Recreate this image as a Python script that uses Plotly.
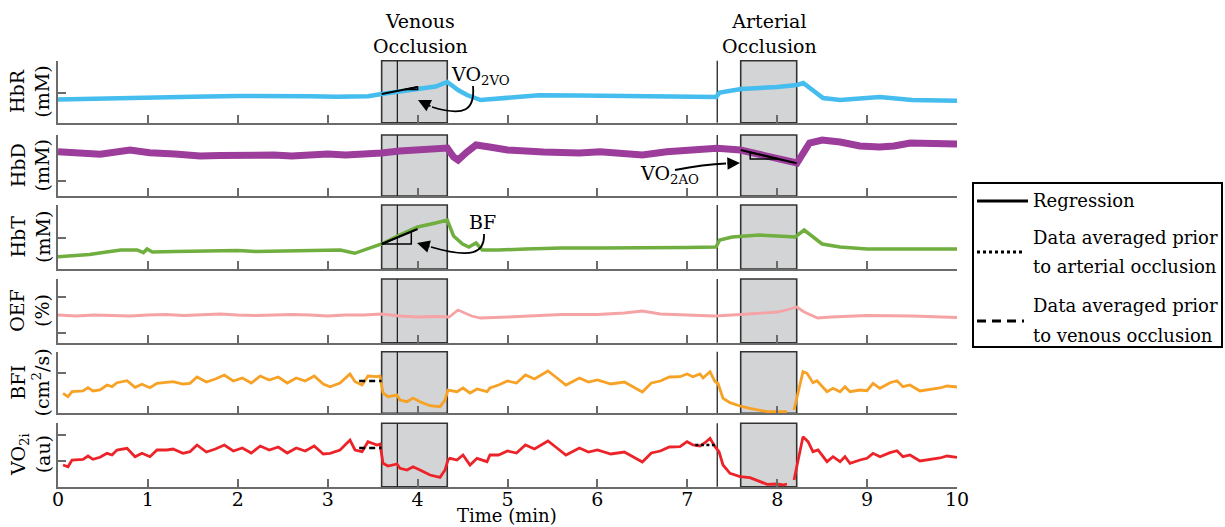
import plotly.graph_objects as go

# ---------------------------------------------------------------- data
# time in minutes; values in arbitrary units above each panel's lower limit
x_ticks = list(range(0, 11))
x_tick_labels = [str(v) for v in x_ticks]

hbr_pts = [(0, 23.2), (0.5, 24.4), (1.0, 25.2), (1.5, 25.9), (2.0, 26.7), (2.5, 27.2), (2.8, 26.5),
           (3.1, 25.9), (3.3, 25.7), (3.45, 26.5), (3.6, 28.7), (3.8, 31.7), (4.0, 33.7), (4.2, 36.2),
           (4.33, 40.7), (4.45, 32.7), (4.55, 27.7), (4.7, 22.7), (4.85, 23.7), (5.0, 25.7), (5.35, 27.4),
           (5.8, 27.2), (6.2, 26.7), (6.6, 26.7), (7.0, 25.9), (7.32, 25.7), (7.36, 30.2), (7.6, 33.7),
           (8.0, 35.7), (8.22, 37.7), (8.29, 39.7), (8.4, 31.7), (8.51, 24.7), (8.7, 22.7), (8.9, 23.7),
           (9.14, 25.7), (9.5, 22.7), (10, 22.0)]

hbd_pts = [(0, 44.3), (0.2, 43), (0.47, 41.7), (0.8, 46), (1.02, 43.3), (1.3, 42), (1.58, 40),
           (1.8, 40.5), (2.0, 41), (2.2, 42), (2.4, 41), (2.6, 40), (2.8, 41), (3.0, 42), (3.2, 41),
           (3.4, 41.5), (3.6, 43), (3.8, 45), (4.0, 46), (4.2, 47.5), (4.33, 48), (4.4, 39), (4.45, 36),
           (4.55, 44), (4.65, 51), (4.8, 49), (5.0, 46), (5.4, 44), (5.8, 43), (6.03, 44.3), (6.44, 42.7),
           (6.5, 41), (6.77, 44.3), (7.0, 45), (7.33, 47.7), (7.59, 46), (7.8, 42), (8.0, 38.5),
           (8.22, 33), (8.36, 53), (8.5, 56), (8.7, 54), (8.92, 50), (9.14, 49), (9.3, 50), (9.48, 53),
           (9.7, 52.5), (10, 52)]

hbt_pts = [(0, 12.3), (0.1, 13), (0.2, 14), (0.35, 14.5), (0.5, 16.5), (0.7, 19), (0.88, 19),
           (0.95, 16.3), (0.99, 20), (1.05, 17), (1.3, 17.5), (1.58, 18), (1.8, 19), (2.0, 18.5),
           (2.2, 17.5), (2.5, 18), (2.8, 18.5), (3.14, 19), (3.3, 15.7), (3.45, 20), (3.6, 25), (3.8, 34),
           (4.0, 42), (4.2, 46), (4.33, 49), (4.4, 33), (4.5, 25), (4.57, 22), (4.65, 26), (4.72, 19),
           (4.9, 19), (5.2, 20), (5.6, 21), (6.0, 21), (6.4, 21), (6.8, 21), (7.0, 21.5), (7.32, 22),
           (7.36, 29), (7.5, 32), (7.8, 34), (8.0, 33), (8.2, 32), (8.3, 39), (8.4, 32), (8.5, 25),
           (8.7, 22), (9.0, 20), (9.5, 20), (10, 20)]

oef_pts = [(0, 27.7), (0.2, 26.7), (0.4, 27.7), (0.6, 27.2), (0.8, 26.7), (1.0, 27.7), (1.2, 28.2),
           (1.4, 27.2), (1.6, 27.7), (1.8, 28.7), (2.0, 27.7), (2.2, 27.2), (2.4, 27.7), (2.6, 28.2),
           (2.8, 27.7), (3.0, 26.7), (3.2, 27.7), (3.4, 27.7), (3.6, 28.7), (3.8, 26.7), (4.0, 25.7),
           (4.2, 26.2), (4.35, 25.7), (4.45, 32.7), (4.6, 26.7), (4.7, 24.7), (5.0, 25.7), (5.3, 26.7),
           (5.6, 28.2), (6.0, 28.2), (6.3, 29.7), (6.5, 31.7), (6.7, 28.7), (7.0, 27.7), (7.3, 26.7),
           (7.6, 28.2), (7.8, 29.7), (8.0, 30.7), (8.1, 32.7), (8.22, 35.7), (8.3, 30.7), (8.45, 24.7),
           (8.6, 25.7), (9.0, 27.2), (9.5, 26.7), (10, 25.2)]

bfi_pts = [(0.056, 20), (0.111, 16.6), (0.156, 21.6), (0.278, 22.3), (0.334, 25.6), (0.389, 22.3),
           (0.467, 23.3), (0.545, 28.3), (0.601, 26.6), (0.656, 30.6), (0.768, 32.6), (0.857, 26),
           (0.934, 29), (1.023, 25.6), (1.101, 30), (1.212, 31), (1.279, 31.6), (1.39, 29.3),
           (1.468, 30), (1.546, 36.3), (1.65, 31.3), (1.75, 34.3), (1.85, 38.3), (1.95, 32.3),
           (2.05, 35.3), (2.15, 30.3), (2.25, 37.3), (2.35, 33.3), (2.45, 36.3), (2.55, 30.3),
           (2.65, 35.3), (2.75, 32.3), (2.85, 37.3), (2.95, 29.3), (3.026, 26.6), (3.137, 30.3),
           (3.248, 39.3), (3.304, 31.6), (3.382, 28.3), (3.448, 37.3), (3.548, 36.6), (3.582, 37.3),
           (3.615, 20.3), (3.671, 16.6), (3.771, 18.3), (3.804, 13.3), (3.882, 11.6), (3.949, 15.3),
           (4.027, 11.6), (4.138, 7.6), (4.249, 6.6), (4.305, 13.3), (4.338, 23.3), (4.438, 21.6),
           (4.505, 25.3), (4.583, 20.3), (4.661, 24.3), (4.772, 21.6), (4.805, 25.3), (4.9, 28.3),
           (5.0, 32.3), (5.1, 30.3), (5.2, 38.3), (5.3, 34.3), (5.45, 42.3), (5.55, 35.3), (5.65, 28.3),
           (5.8, 35.3), (5.9, 31.3), (6.0, 33.3), (6.15, 29.3), (6.3, 31.3), (6.4, 26.3), (6.5, 21.3),
           (6.6, 30.3), (6.7, 32.3), (6.8, 36.3), (6.919, 36.6), (6.997, 39.3), (7.063, 36.6),
           (7.141, 39.3), (7.175, 35.3), (7.253, 41.6), (7.308, 31.6), (7.341, 30), (7.397, 15),
           (7.475, 10.6), (7.586, 7.3), (7.697, 5), (7.809, 3.3), (7.887, 1.6), (8.031, 1.6),
           (8.109, 1.6), (8.15, None), (8.187, 3.3), (8.22, 16.6), (8.287, 41.6), (8.331, 40),
           (8.398, 30.6), (8.443, 32.6), (8.554, 21.6), (8.621, 25), (8.699, 21.6), (8.754, 26.6),
           (8.81, 21.6), (8.921, 23.3), (8.999, 22.6), (9.066, 30), (9.143, 25), (9.255, 30.6),
           (9.333, 32.6), (9.399, 26.6), (9.477, 28.3), (9.588, 22.3), (9.666, 23.3), (9.811, 25.3),
           (9.889, 27.3), (10.0, 26.3)]

vo2_pts = [(0.056, 21.7), (0.111, 20), (0.156, 26.7), (0.278, 27.4), (0.334, 30.7), (0.389, 27.4),
           (0.467, 29.4), (0.545, 33.4), (0.601, 31.7), (0.656, 36.7), (0.768, 38.4), (0.857, 30),
           (0.934, 33.4), (1.023, 30), (1.101, 36.7), (1.212, 36.7), (1.279, 37.7), (1.39, 33.4),
           (1.468, 35), (1.546, 41.7), (1.65, 34.7), (1.75, 37.7), (1.85, 41.7), (1.95, 35.7),
           (2.05, 38.7), (2.15, 33.7), (2.25, 40.7), (2.35, 36.7), (2.45, 39.7), (2.55, 33.7),
           (2.65, 38.7), (2.75, 35.7), (2.85, 40.7), (2.95, 32.7), (3.026, 33.4), (3.137, 36.7),
           (3.248, 46.7), (3.304, 36.7), (3.382, 35), (3.448, 45), (3.548, 41.7), (3.582, 42.7),
           (3.615, 23.4), (3.671, 20.7), (3.771, 22.7), (3.804, 18.4), (3.882, 16.7), (3.949, 20),
           (4.027, 16.7), (4.138, 11.7), (4.249, 9.4), (4.305, 16.7), (4.338, 26.7), (4.36, 28.4),
           (4.438, 26.7), (4.505, 31.7), (4.583, 21.7), (4.661, 28.4), (4.772, 25), (4.805, 31.7),
           (4.9, 31.7), (5.0, 35.7), (5.1, 33.7), (5.2, 41.7), (5.3, 37.7), (5.45, 45.7), (5.55, 38.7),
           (5.65, 31.7), (5.8, 38.7), (5.9, 34.7), (6.0, 36.7), (6.15, 32.7), (6.3, 34.7), (6.4, 29.7),
           (6.5, 24.7), (6.6, 33.7), (6.7, 35.7), (6.8, 39.7), (6.919, 40), (6.997, 45), (7.063, 41.7),
           (7.141, 40.7), (7.197, 44), (7.253, 48.4), (7.308, 40), (7.353, 35), (7.397, 21.7),
           (7.475, 13.4), (7.586, 10), (7.697, 9), (7.809, 5), (7.887, 2.4), (7.998, 2.7), (8.065, 1.7),
           (8.109, 2.7), (8.15, None), (8.187, 6.7), (8.22, 20), (8.287, 50), (8.343, 45), (8.398, 35),
           (8.454, 36.7), (8.554, 25), (8.621, 30), (8.699, 25), (8.754, 30), (8.81, 23.4),
           (8.921, 26.7), (8.999, 28.4), (9.066, 33.4), (9.143, 30), (9.255, 34), (9.333, 36),
           (9.399, 30), (9.477, 31.7), (9.588, 25.7), (9.666, 26.7), (9.811, 28.7), (9.889, 30.7),
           (10.0, 29.4)]

# regression lines and slope triangles (time, value)
hbr_reg = [(3.6, 28.7), (4.0, 35.7)]
hbr_tri = [(3.86, 33.2), (4.0, 33.2), (4.0, 35.7)]
hbt_reg = [(3.6, 25.0), (4.0, 40.0)]
hbt_tri = [(3.6, 25.0), (3.93, 25.0), (3.93, 37.4)]
hbd_reg = [(7.594, 46.0), (8.217, 32.7)]
hbd_tri = [(7.70, 43.7), (7.70, 37.0), (8.016, 37.0)]

# averages prior to occlusion
bfi_ven_avg = [(3.35, 32.3), (3.6, 32.3)]
vo2_ven_avg = [(3.35, 38.7), (3.6, 38.7)]
vo2_art_avg = [(7.09, 41.7), (7.31, 41.7)]

# occlusion timing (min)
venous_box = (3.6, 4.33)
venous_mark = 3.775
arterial_mark = 7.333
arterial_box = (7.594, 8.217)

panel_labels = ["HbR<br>(mM)", "HbD<br>(mM)", "HbT<br>(mM)", "OEF<br>(%)",
                "BFI<br>(cm<sup>2</sup>/s)", "VO<sub>2i</sub><br>(au)"]
panel_ymax = [62.0, 61.0, 64.0, 63.7, 61.6, 63.4]
panel_yticks = [[30.0, 62.0], [15.0, 61.0], [30.7, 64.0], [10.0, 46.0], [40.6], [26.0, 51.7]]
series = [hbr_pts, hbd_pts, hbt_pts, oef_pts, bfi_pts, vo2_pts]

# ---------------------------------------------------------------- styling / layout
W, H = 1225, 527
colors = ["#45bdee", "#9c3c9b", "#6fae3f", "#f6a3a6", "#f7a125", "#ec2329"]
widths = [4.5, 7, 3.5, 2.8, 2.8, 2.8]
panel_px = [(60.7, 122.7), (135, 196), (205, 269), (279, 342.7), (351.7, 413.3), (423.3, 486.7)]
x_left_px, x_right_px = 58, 957
FONT = "DejaVu Serif"
AX = "#6b6b6b"


def PX(p):
    return p / W


def PY(p):
    return 1 - p / H


def unzip(pts):
    return [p[0] for p in pts], [p[1] for p in pts]


def label(x, y, text, size=19, xanchor="center", angle=0):
    return dict(x=PX(x), y=PY(y), xref="paper", yref="paper", text=text, showarrow=False,
                xanchor=xanchor, yanchor="middle", textangle=angle,
                font=dict(size=size, family=FONT, color="black"))


fig = go.Figure()
layout = dict(width=W, height=H, autosize=False, margin=dict(l=0, r=0, t=0, b=0, pad=0),
              plot_bgcolor="white", paper_bgcolor="white", showlegend=False,
              font=dict(family=FONT, size=19, color="black"))
shapes = []
annotations = []

for i in range(6):
    n = i + 1
    xa = "x" if n == 1 else f"x{n}"
    ya = "y" if n == 1 else f"y{n}"
    top, bot = panel_px[i]
    t, v = unzip(series[i])
    fig.add_trace(go.Scatter(x=t, y=v, xaxis=xa, yaxis=ya, mode="lines",
                             line=dict(color=colors[i], width=widths[i]), hoverinfo="skip",
                             connectgaps=False))
    last = n == 6
    layout["xaxis" if n == 1 else f"xaxis{n}"] = dict(
        domain=[PX(x_left_px), PX(x_right_px)], anchor=ya, range=[0, 10], automargin=False,
        tickmode="array", tickvals=x_ticks, ticktext=x_tick_labels, showticklabels=last,
        ticks="inside", ticklen=8, tickwidth=1.5, tickcolor=AX, showline=True, linecolor=AX,
        linewidth=1.5, showgrid=False, zeroline=False, tickfont=dict(size=19, family=FONT))
    layout["yaxis" if n == 1 else f"yaxis{n}"] = dict(
        domain=[PY(bot), PY(top)], anchor=xa, range=[0, panel_ymax[i]], automargin=False,
        tickmode="array", tickvals=panel_yticks[i], showticklabels=False,
        ticks="inside", ticklen=8, tickwidth=1.5, tickcolor=AX, showline=True, linecolor=AX,
        linewidth=1.5, showgrid=False, zeroline=False)
    for (x0, x1) in (venous_box, arterial_box):
        shapes.append(dict(type="rect", xref=xa, yref=f"{ya} domain", x0=x0, x1=x1, y0=0, y1=1,
                           fillcolor="#d3d4d6", line=dict(color="#333333", width=1.6), layer="below"))
    for xm in (venous_mark, arterial_mark):
        shapes.append(dict(type="line", xref=xa, yref=f"{ya} domain", x0=xm, x1=xm, y0=0, y1=1,
                           line=dict(color="#222222", width=1.3), layer="below"))
    annotations.append(label(30, (top + bot) / 2, panel_labels[i], angle=-90))


def add_line(pts, xa, ya, dash="solid", width=2.0):
    t, v = unzip(pts)
    fig.add_trace(go.Scatter(x=t, y=v, xaxis=xa, yaxis=ya, mode="lines",
                             line=dict(color="black", width=width, dash=dash), hoverinfo="skip"))


add_line(hbr_reg, "x", "y", width=2.2)
add_line(hbr_tri + [hbr_tri[0]], "x", "y", width=1.5)
add_line(hbt_reg, "x3", "y3", width=2.2)
add_line(hbt_tri + [hbt_tri[0]], "x3", "y3", width=1.5)
add_line(hbd_reg, "x2", "y2", width=2.2)
add_line(hbd_tri + [hbd_tri[0]], "x2", "y2", width=1.5)
add_line(bfi_ven_avg, "x5", "y5", dash="6px,4px", width=2.5)
add_line(vo2_ven_avg, "x6", "y6", dash="6px,4px", width=2.5)
add_line(vo2_art_avg, "x6", "y6", dash="3px,2.5px", width=2.5)

# titles and callouts
annotations += [
    label(420, 34, "Venous<br>Occlusion"),
    label(769, 34, "Arterial<br>Occlusion"),
    label(507, 515, "Time (min)", size=18),
    label(449, 75, "VO<sub>2VO</sub>", xanchor="left"),
    label(482, 222, "BF"),
    label(638, 174, "VO<sub>2AO</sub>", xanchor="left"),
]

# curved arrows (paths) + heads
curves = [
    ((473, 86), (475, 110), (465, 117), (432, 107), (418, 100)),
    ((484, 234), (485, 253), (472, 259), (431, 247), (417, 243)),
    ((675, 170), (695, 166), (710, 164), (726, 163.5), (740, 163)),
]
for p0, c1, c2, p1, tip in curves:
    path = (f"M {PX(p0[0])},{PY(p0[1])} C {PX(c1[0])},{PY(c1[1])} "
            f"{PX(c2[0])},{PY(c2[1])} {PX(p1[0])},{PY(p1[1])}")
    shapes.append(dict(type="path", xref="paper", yref="paper", path=path,
                       line=dict(color="black", width=1.8)))
    annotations.append(dict(x=PX(tip[0]), y=PY(tip[1]), xref="paper", yref="paper", text="",
                            showarrow=True, ax=p1[0] - tip[0], ay=p1[1] - tip[1],
                            arrowhead=2, arrowsize=1.4, arrowwidth=1.8, arrowcolor="black",
                            standoff=0, startstandoff=0))

# legend (drawn)
shapes.append(dict(type="rect", xref="paper", yref="paper", x0=PX(973), x1=PX(1222),
                   y0=PY(347), y1=PY(183), line=dict(color="black", width=2), fillcolor="white"))
legend_items = [
    (201, "solid", [(201, "Regression")]),
    (252, "dot", [(237, "Data averaged prior"), (266, "to arterial occlusion")]),
    (321, "dash", [(305, "Data averaged prior"), (335, "to venous occlusion")]),
]
dash_map = {"solid": "solid", "dot": "3px,3px", "dash": "9px,6px"}
for ly, dsh, texts in legend_items:
    x1 = 1028 if dsh == "solid" else 1024
    shapes.append(dict(type="line", xref="paper", yref="paper", x0=PX(977), x1=PX(x1),
                       y0=PY(ly), y1=PY(ly), line=dict(color="black", width=3, dash=dash_map[dsh])))
    for ty, txt in texts:
        annotations.append(label(1031, ty, txt, size=18, xanchor="left"))

layout["shapes"] = shapes
layout["annotations"] = annotations
fig.update_layout(**layout)
# pull bottom tick labels slightly closer to the axis line (as in the reference)
try:
    fig.layout.xaxis6.ticklabelstandoff = -5
except ValueError:
    pass
fig.write_html("out.html", config={"displayModeBar": False},
               post_script="document.body.style.margin='0px';")
